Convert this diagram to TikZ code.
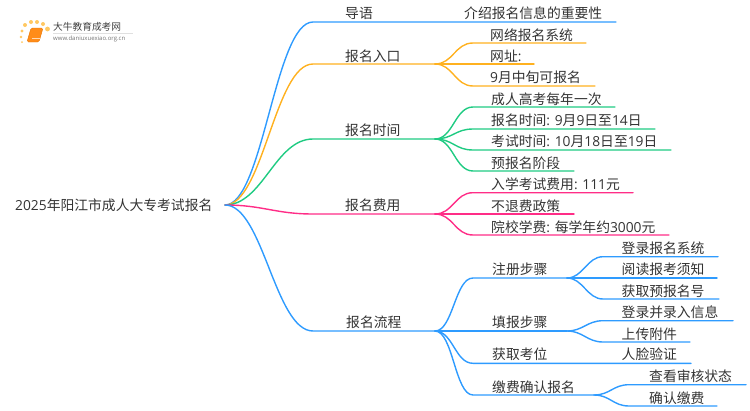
\documentclass[tikz,border=0pt]{standalone}
\usepackage{fontspec}
\setmainfont{Noto Sans CJK SC}
\newfontfamily\dgfont{Open Sans}
\newcommand{\dg}[1]{{\dgfont #1}}
\usetikzlibrary{positioning,calc}
\definecolor{mapblue}{HTML}{2E9BFF}
\definecolor{maporange}{HTML}{FFB11F}
\definecolor{mapgreen}{HTML}{1FCB82}
\definecolor{mappink}{HTML}{FF2D87}
\definecolor{maptext}{HTML}{333333}
\tikzset{
    maptxt/.style={anchor=west,inner sep=0pt,text=maptext,font=\fontsize{13.8}{15}\selectfont},
    branch/.style={line width=1.4pt,line cap=round}
}
\begin{document}
\begin{tikzpicture}[x=1pt,y=-1pt]
    \useasboundingbox (0,0) rectangle (750,410);
    % logo
    \foreach \x/\y/\r in {25/25/2,31/22/2,37/22/2,43/24/2,47.5/29/2.4,22/31/1.6,21/37/1.3,22/42/1}{
        \fill[maporange!70] (\x,\y) circle (\r);
    }
    \filldraw[draw=orange!90!black,fill=orange!90,rounded corners=1.5pt] (31,28) -- (43,28) -- (39,42) -- (27,42) -- cycle;
    \draw[white!70!orange,line width=0.8pt] (32,38.5) -- (39.5,38.5);
    \node[anchor=west,inner sep=0pt,text=black!75,font=\fontsize{9.7}{10}\selectfont] (logoname) at (53,27) {大牛教育成考网};
    \node[anchor=west,inner sep=0pt,text=black!55,font=\dgfont\fontsize{6}{7}\selectfont] (logourl) at (53,39) {www.daniuxuexiao.org.cn};
    \draw[black!12,line width=0.5pt] (53,33) -- (133,33);

    % root
    \node[maptxt] (baoming) at (15,205) {\dg{2025}年阳江市成人大专考试报名};
    \coordinate (root) at (225,205);

    % first level, ends of the curves
    \coordinate (daoyu) at (313,22);
    \coordinate (rukou) at (313,64);
    \coordinate (shijian) at (313,139);
    \coordinate (feiyong) at (313,214);
    \coordinate (liucheng) at (313,331);
    \coordinate (rukoum) at (435,64);
    \coordinate (shijianm) at (435,139);
    \coordinate (feiyongm) at (435,214);
    \coordinate (liuchengm) at (435,331);

    \draw[branch,mapblue] (root) .. controls +(38,0) and +(-38,0) .. (daoyu) -- (616,22);
    \draw[branch,maporange] (root) .. controls +(38,0) and +(-38,0) .. (rukou) -- (rukoum);
    \draw[branch,mapgreen] (root) .. controls +(38,0) and +(-38,0) .. (shijian) -- (shijianm);
    \draw[branch,mappink] (root) .. controls +(38,0) and +(-38,0) .. (feiyong) -- (feiyongm);
    \draw[branch,mapblue] (root) .. controls +(38,0) and +(-38,0) .. (liucheng) -- (liuchengm);

    \node[maptxt] (tdaoyu) at (345,13) {导语};
    \node[maptxt] (tjieshao) at (464,13) {介绍报名信息的重要性};
    \node[maptxt] (trukou) at (345,56) {报名入口};
    \node[maptxt] (tshijian) at (345,130.5) {报名时间};
    \node[maptxt] (tfeiyong) at (345,205) {报名费用};
    \node[maptxt] (tliucheng) at (346,322) {报名流程};

    % entry
    \foreach \n/\y/\e in {a/43/586,b/64/534,c/86/595}{
        \coordinate (rk\n) at (473,\y);
        \draw[branch,maporange] (rukoum) .. controls +(18,0) and +(-18,0) .. (rk\n) -- (\e,\y);
    }
    \node[maptxt] (t1) at (490,35) {网络报名系统};
    \node[maptxt] (t2) at (490,56) {网址\dg{:}};
    \node[maptxt] (t3) at (490,77) {\dg{9}月中旬可报名};

    % time
    \foreach \n/\y/\e in {a/107/615,b/129/655,c/150/671,d/171/574}{
        \coordinate (sj\n) at (473,\y);
        \draw[branch,mapgreen] (shijianm) .. controls +(18,0) and +(-18,0) .. (sj\n) -- (\e,\y);
    }
    \node[maptxt] (t4) at (491,99) {成人高考每年一次};
    \node[maptxt] (t5) at (491,120) {报名时间\dg{: 9}月\dg{9}日至\dg{14}日};
    \node[maptxt] (t6) at (491,141) {考试时间\dg{: 10}月\dg{18}日至\dg{19}日};
    \node[maptxt] (t7) at (491,163) {预报名阶段};

    % fee
    \foreach \n/\y/\e in {a/192.7/633,b/214/574,c/235/669}{
        \coordinate (fy\n) at (473,\y);
        \draw[branch,mappink] (feiyongm) .. controls +(18,0) and +(-18,0) .. (fy\n) -- (\e,\y);
    }
    \node[maptxt] (t8) at (491,184) {入学考试费用\dg{: 111}元};
    \node[maptxt] (t9) at (491,206) {不退费政策};
    \node[maptxt] (t10) at (491,227) {院校学费\dg{: }每学年约\dg{3000}元};

    % process
    \foreach \n/\y/\e in {a/278/567,b/331/567,c/363.3/691,d/395/594}{
        \coordinate (lc\n) at (473,\y);
        \draw[branch,mapblue] (liuchengm) .. controls +(18,0) and +(-18,0) .. (lc\n) -- (\e,\y);
    }
    \node[maptxt] (t11) at (492,269) {注册步骤};
    \node[maptxt] (t12) at (492,322) {填报步骤};
    \node[maptxt] (t13) at (492,354) {获取考位};
    \node[maptxt] (t14) at (492,387) {缴费确认报名};
    \node[maptxt] (t15) at (621.5,354) {人脸验证};

    \coordinate (lcam) at (567,278);
    \coordinate (lcbm) at (567,331);
    \coordinate (lcdm) at (594,395);
    \foreach \f/\n/\x/\y/\e in {lcam/p/603/256.7/718,lcam/q/603/278/717,lcam/r/603/299/719,lcbm/s/603/320.7/733,lcbm/t/603/342/690,lcdm/u/629/384.7/746,lcdm/v/629/406/717}{
        \coordinate (\n) at (\x,\y);
        \draw[branch,mapblue] (\f) .. controls +(16,0) and +(-16,0) .. (\n) -- (\e,\y);
    }
    \node[maptxt] (t16) at (621.5,248) {登录报名系统};
    \node[maptxt] (t17) at (621.5,269) {阅读报考须知};
    \node[maptxt] (t18) at (621.5,291) {获取预报名号};
    \node[maptxt] (t19) at (621.5,312) {登录并录入信息};
    \node[maptxt] (t20) at (621.5,334) {上传附件};
    \node[maptxt] (t21) at (649,376) {查看审核状态};
    \node[maptxt] (t22) at (649,398) {确认缴费};
\end{tikzpicture}
\end{document}
